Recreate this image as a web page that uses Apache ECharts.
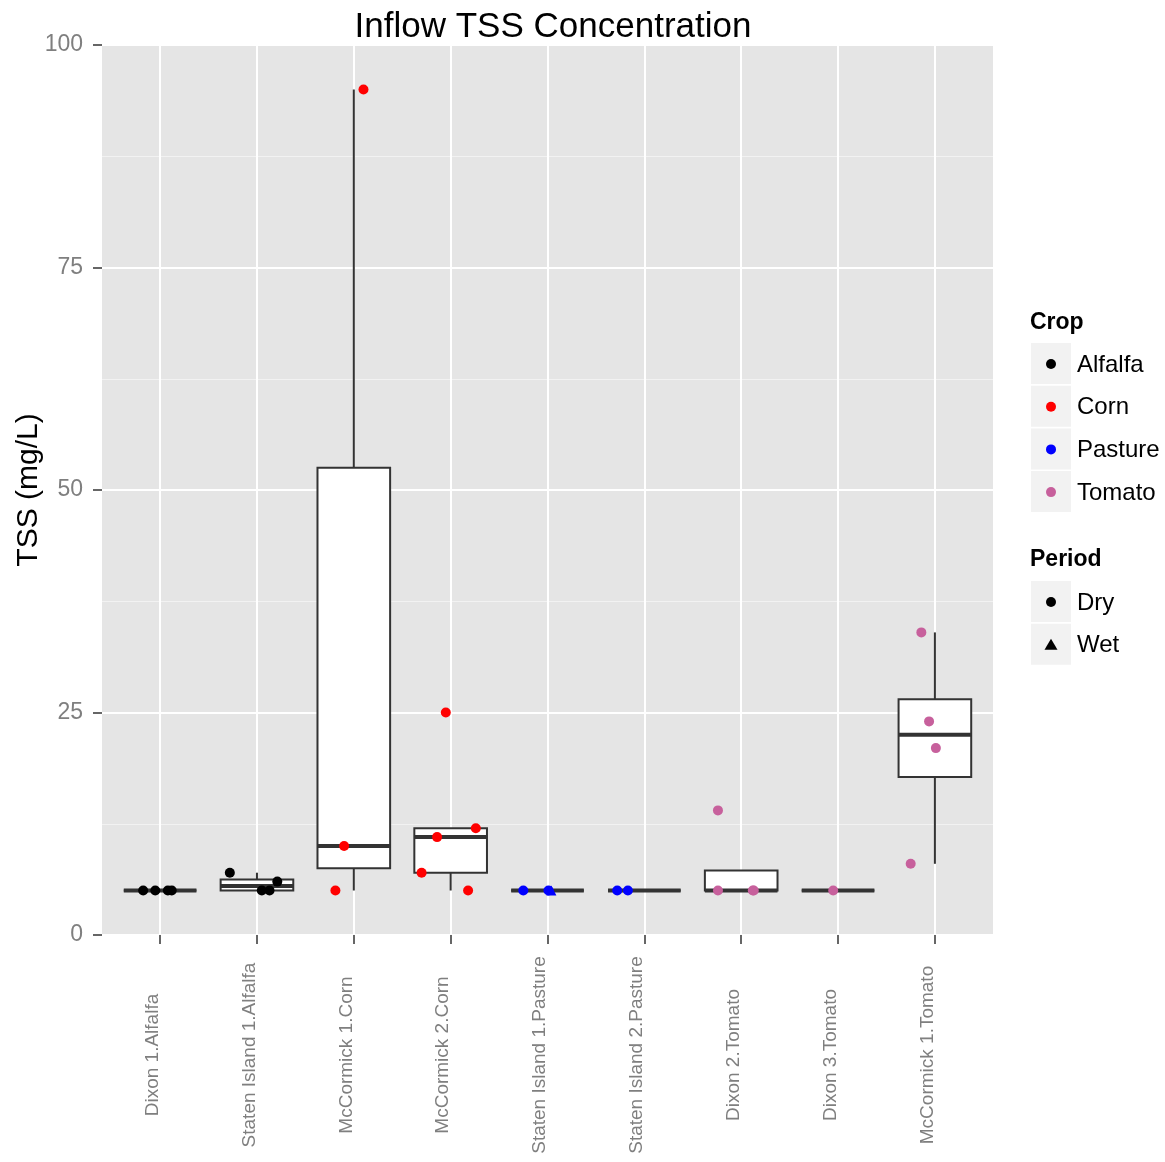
<!DOCTYPE html>
<html>
<head>
<meta charset="utf-8">
<script src="https://cdn.jsdelivr.net/npm/echarts@6/dist/echarts.min.js"></script>
<style>
  html, body { margin: 0; padding: 0; background: #fff; }
  #chart { width: 1165px; height: 1162px; }
</style>
</head>
<body>
<div id="chart"></div>
<script>
var categories = ['Dixon 1.Alfalfa', 'Staten Island 1.Alfalfa', 'McCormick 1.Corn', 'McCormick 2.Corn',
    'Staten Island 1.Pasture', 'Staten Island 2.Pasture', 'Dixon 2.Tomato', 'Dixon 3.Tomato', 'McCormick 1.Tomato'];

// box stats per site: [lower whisker, Q1, median, Q3, upper whisker]
var boxStats = [
    [5, 5, 5, 5, 5],
    [5, 5, 5.5, 6.25, 7],
    [5, 7.5, 10, 52.5, 95],
    [5, 7, 11, 12, 12],
    [5, 5, 5, 5, 5],
    [5, 5, 5, 5, 5],
    [5, 5, 5, 7.25, 5],
    [5, 5, 5, 5, 5],
    [8, 17.75, 22.5, 26.5, 34]
];

// individual samples (jittered horizontally)
var pointSite   = [0, 0, 0, 0, 1, 1, 1, 1, 2, 2, 2, 3, 3, 3, 3, 3, 4, 4, 4, 5, 5, 6, 6, 6, 6, 7, 8, 8, 8, 8];
var pointValue  = [5, 5, 5, 5, 7, 6, 5, 5, 95, 10, 5, 25, 11, 12, 7, 5, 5, 5, 5, 5, 5, 14, 5, 5, 5, 5, 34, 24, 21, 8];
var pointJitter = [-0.175, -0.05, 0.08, 0.12, -0.28, 0.21, 0.05, 0.13, 0.10, -0.10, -0.19, -0.05, -0.14, 0.26, -0.30, 0.18,
    -0.25, 0.01, 0.04, -0.28, -0.17, -0.24, -0.24, 0.13, 0.12, -0.05, -0.14, -0.06, 0.01, -0.25];
var pointPeriod = ['Dry', 'Dry', 'Dry', 'Dry', 'Dry', 'Dry', 'Dry', 'Dry', 'Dry', 'Dry', 'Dry', 'Dry', 'Dry', 'Dry', 'Dry', 'Dry',
    'Dry', 'Dry', 'Wet', 'Dry', 'Dry', 'Dry', 'Dry', 'Dry', 'Dry', 'Dry', 'Dry', 'Dry', 'Dry', 'Dry'];

var crops = ['Alfalfa', 'Corn', 'Pasture', 'Tomato'];
var cropColors = ['#000000', '#ff0000', '#0000ff', '#c7609c'];
var siteCrop = [0, 0, 1, 1, 2, 2, 3, 3, 3];
var periods = ['Dry', 'Wet'];
var periodSymbols = ['circle', 'triangle'];

var yTicks = [0, 25, 50, 75, 100];

var FONT = 'Liberation Sans, Arial, Helvetica, sans-serif';
var myChart = echarts.init(document.getElementById('chart'));

var siteIndex = categories.map(function (c, i) { return i; });
var boxData = boxStats.map(function (b, i) {
    return [i].concat(b);
});

var series = [];

// vertical major grid lines at each site
series.push({
    type: 'line',
    data: [],
    silent: true,
    z: 1,
    markLine: {
        silent: true,
        z: 1,
        symbol: ['none', 'none'],
        label: {show: false},
        lineStyle: {color: '#ffffff', width: 2, type: 'solid'},
        data: siteIndex.map(function (i) {
            return {xAxis: i};
        })
    }
});

series.push({
    type: 'custom',
    z: 2,
    silent: true,
    data: boxData,
    encode: {x: 0, y: [1, 2, 3, 4, 5]},
    renderItem: function (params, api) {
        var x = api.value(0);
        var lo = api.coord([x - 0.375, api.value(2)]);
        var hi = api.coord([x + 0.375, api.value(4)]);
        var med = api.coord([x, api.value(3)]);
        var wMin = api.coord([x, api.value(1)]);
        var wMax = api.coord([x, api.value(5)]);
        var c = '#333333';
        var children = [];
        if (wMax[1] < hi[1]) {
            children.push({type: 'line', shape: {x1: med[0], y1: hi[1], x2: med[0], y2: wMax[1]},
                style: {stroke: c, lineWidth: 2}});
        }
        if (wMin[1] > lo[1]) {
            children.push({type: 'line', shape: {x1: med[0], y1: lo[1], x2: med[0], y2: wMin[1]},
                style: {stroke: c, lineWidth: 2}});
        }
        children.push({type: 'rect', shape: {x: lo[0], y: hi[1], width: hi[0] - lo[0], height: lo[1] - hi[1]},
            style: {fill: '#ffffff', stroke: c, lineWidth: 2}});
        children.push({type: 'line', shape: {x1: lo[0], y1: med[1], x2: hi[0], y2: med[1]},
            style: {stroke: c, lineWidth: 4}});
        return {type: 'group', children: children};
    }
});

crops.forEach(function (crop, ci) {
    var data = [];
    for (var k = 0; k < pointSite.length; k++) {
        if (siteCrop[pointSite[k]] !== ci) continue;
        data.push({
            value: [pointSite[k] + pointJitter[k], pointValue[k]],
            symbol: periodSymbols[periods.indexOf(pointPeriod[k])]
        });
    }
    series.push({
        name: crop,
        type: 'scatter',
        z: 3,
        symbolSize: 10,
        itemStyle: {color: cropColors[ci], opacity: 1},
        data: data
    });
});

// legend drawn as ggplot-style keys
var legend = [];
legend.push({type: 'text', left: 1030, top: 311, style: {text: 'Crop', font: 'bold 23px ' + FONT, fill: '#000'}});
crops.forEach(function (crop, i) {
    var y = 343 + i * 42.7;
    legend.push({type: 'rect', shape: {x: 1031, y: y, width: 40, height: 41}, style: {fill: '#f2f2f2'}});
    legend.push({type: 'circle', shape: {cx: 1051, cy: y + 21, r: 5}, style: {fill: cropColors[i]}});
    legend.push({type: 'text', x: 1077, y: y + 22, style: {text: crop, font: '24px ' + FONT, fill: '#000', verticalAlign: 'middle'}});
});
legend.push({type: 'text', left: 1030, top: 548, style: {text: 'Period', font: 'bold 23px ' + FONT, fill: '#000'}});
periods.forEach(function (p, i) {
    var y = 581 + i * 42.7;
    legend.push({type: 'rect', shape: {x: 1031, y: y, width: 40, height: 41}, style: {fill: '#f2f2f2'}});
    if (periodSymbols[i] === 'circle') {
        legend.push({type: 'circle', shape: {cx: 1051, cy: y + 21, r: 5}, style: {fill: '#000'}});
    } else {
        legend.push({type: 'polygon', shape: {points: [[1051, y + 15], [1057.5, y + 26], [1044.5, y + 26]]}, style: {fill: '#000'}});
    }
    legend.push({type: 'text', x: 1077, y: y + 22, style: {text: p, font: '24px ' + FONT, fill: '#000', verticalAlign: 'middle'}});
});

var option = {
    backgroundColor: '#ffffff',
    animation: false,
    textStyle: {fontFamily: FONT},
    title: {
        text: 'Inflow TSS Concentration',
        left: 548,
        textAlign: 'center',
        top: 5,
        textStyle: {fontSize: 35, fontWeight: 'normal', color: '#000', fontFamily: FONT}
    },
    grid: {
        left: 102, right: 172, top: 45, bottom: 227,
        containLabel: false,
        outerBoundsMode: 'none',
        show: true, backgroundColor: '#e5e5e5', borderWidth: 0
    },
    xAxis: {
        type: 'value',
        min: -0.6, max: 8.6,
        axisLine: {show: false},
        splitLine: {show: false},
        axisTick: {show: true, customValues: siteIndex, length: 9, lineStyle: {color: '#666666', width: 2}},
        axisLabel: {
            customValues: siteIndex,
            rotate: 90, margin: 120, align: 'center', verticalAlign: 'bottom',
            lineHeight: 15,
            fontSize: 19, color: '#7f7f7f', fontFamily: FONT,
            formatter: function (v) { return categories[Math.round(v)] || ''; }
        }
    },
    yAxis: {
        type: 'value',
        min: 0, max: 100, interval: 25,
        name: 'TSS (mg/L)',
        nameLocation: 'middle',
        nameGap: 58,
        nameMoveOverlap: false,
        nameTextStyle: {fontSize: 30, color: '#000', fontFamily: FONT},
        axisLine: {show: false, onZero: false},
        axisTick: {show: true, length: 9, lineStyle: {color: '#666666', width: 2}},
        axisLabel: {
            fontSize: 23, color: '#7f7f7f', margin: 19, fontFamily: FONT,
            formatter: function (v) { return yTicks.indexOf(v) >= 0 ? String(v) : ''; }
        },
        splitLine: {show: true, lineStyle: {color: '#ffffff', width: 2}},
        minorTick: {show: false, splitNumber: 2},
        minorSplitLine: {show: true, lineStyle: {color: '#f2f2f2', width: 1}}
    },
    series: series,
    graphic: legend
};

myChart.setOption(option);
</script>
</body>
</html>
